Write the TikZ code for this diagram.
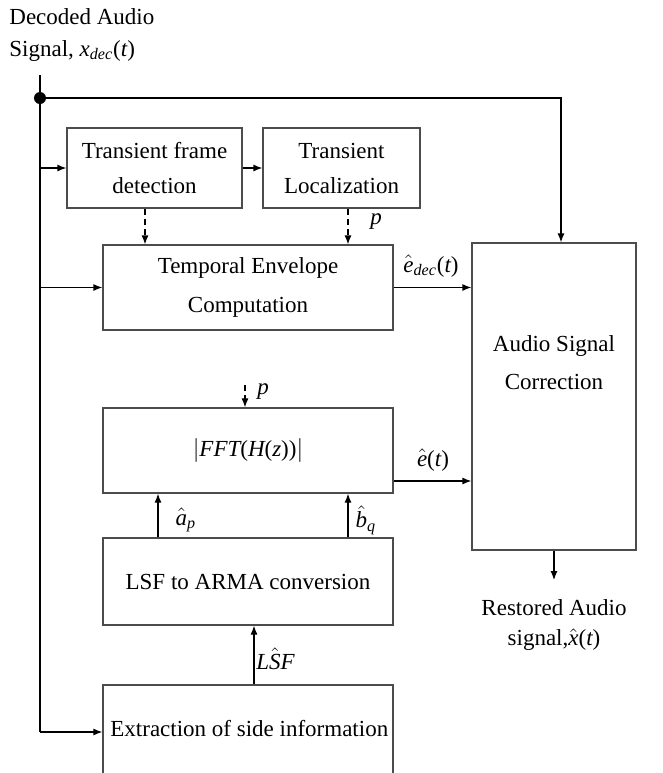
\documentclass[tikz,border=0pt]{standalone}
\usepackage{amsmath}
\usepackage{fontspec}
\setmainfont{LiberationSerif}[Extension=.ttf, UprightFont=*-Regular, ItalicFont=*-Italic, BoldFont=*-Bold, BoldItalicFont=*-BoldItalic]
\usetikzlibrary{arrows.meta}
% italic letters in the serif text face, for the math labels
\newcommand{\mi}[1]{\textit{#1}}
\newcommand{\pr}[1]{\textup{(}#1\textup{)}}
\begin{document}
\begin{tikzpicture}[x=0.5pt,y=-0.5pt,
  box/.style={draw=black!70, line width=0.6pt, inner sep=0pt},
  txt/.style={font=\rmfamily\fontsize{11.5}{17.5}\selectfont, align=center, inner sep=0pt},
  arr/.style={line width=0.6pt, -{Latex[length=4.5pt,width=3.5pt]}},
  dasharr/.style={arr, dash pattern=on 3pt off 2pt},
  wire/.style={line width=0.6pt},
  lab/.style={font=\rmfamily\fontsize{11.5}{14}\selectfont, inner sep=0pt}]
\useasboundingbox (0,0) rectangle (663,773);

% input label
\node[txt, align=left, anchor=north west, font=\rmfamily\fontsize{11.5}{16}\selectfont] (title) at (9,8)
  {Decoded Audio\\Signal, $\mi{x}_{\mi{dec}}\pr{\mi{t}}$};

% blocks
\node[box, txt, minimum width=87.5pt, minimum height=40pt] (tfd) at (154.5,168) {Transient frame\\detection};
\node[box, txt, minimum width=78.5pt, minimum height=40pt] (tl) at (341.5,168) {Transient\\Localization};
\node[box, txt, minimum width=145pt, minimum height=42.5pt] (tec) at (248,287.5) {Temporal Envelope\\[2pt]Computation};
\node[box, minimum width=82pt, minimum height=153.5pt] (asc) at (554,396.5) {};
\node[txt, font=\rmfamily\fontsize{11.5}{19}\selectfont] (asctext) at (554,363) {Audio Signal\\Correction};
\node[box, txt, minimum width=145pt, minimum height=42.5pt] (fft) at (248,450.5) {$|\mi{FFT}\pr{\mi{H}\pr{\mi{z}}}|$};
\node[box, txt, minimum width=145pt, minimum height=43.5pt] (lsf) at (248,581.5) {LSF to ARMA conversion};
\node[box, minimum width=145pt, minimum height=57.5pt] (ext) at (248,742.5) {};
\node[txt, anchor=west] (exttext) at (110,729) {Extraction of side information};

% helper coordinates
\coordinate (top) at (40,75);
\coordinate (dot) at (40,98);
\coordinate (busend) at (40,732);
\coordinate (dx1) at (145,0);
\coordinate (dx2) at (348,0);
\coordinate (pin) at (245,385);
\coordinate (ey) at (0,481);
\coordinate (ax) at (158,0);
\coordinate (bx) at (348,0);
\coordinate (lx) at (254,0);
\coordinate (out) at (554,580);

% input bus
\draw[wire] (top) -- (busend);
\fill (dot) circle (3pt);
\draw[arr] (busend) -- (ext.west |- busend);
\draw[arr] (dot |- tfd.west) -- (tfd.west);
\draw[arr] (dot |- tec.west) -- (tec.west);
\draw[arr] (dot) -| ([xshift=3.5pt]asc.north);

% upper chain
\draw[arr] (tfd.east) -- (tl.west);
\draw[dasharr] (tfd.south -| dx1) -- (tec.north -| dx1);
\draw[dasharr] (tl.south -| dx2) -- (tec.north -| dx2);
\node[lab] (p1) at (376,222) {$\mi{p}$};
\draw[arr] (tec.east) -- (tec.east -| asc.west);
\node[lab] (edec) at (431,266) {$\hat{\mi{e}}_{\mi{dec}}\pr{\mi{t}}$};

% lower chain
\draw[dasharr] (pin) -- (fft.north -| pin);
\node[lab] (p2) at (263,392) {$\mi{p}$};
\draw[arr] (fft.east |- ey) -- (asc.west |- ey);
\node[lab] (ehat) at (433,460) {$\hat{\mi{e}}\pr{\mi{t}}$};
\draw[arr] (lsf.north -| ax) -- (fft.south -| ax);
\draw[arr] (lsf.north -| bx) -- (fft.south -| bx);
\node[lab] (ap) at (186,520) {$\hat{\mi{a}}_{\mi{p}}$};
\node[lab] (bq) at (366,520) {$\hat{\mi{b}}_{\mi{q}}$};
\draw[arr] (ext.north -| lx) -- (lsf.south -| lx);
\node[lab, anchor=west] (lsfhat) at (256,659) {$\mi{L}\hat{\mi{S}}\mi{F}$};

% output
\draw[arr] (asc.south -| out) -- (out);
\node[txt, font=\rmfamily\fontsize{11.5}{15}\selectfont] (restored) at (554,625) {Restored Audio\\signal,$\hat{\mi{x}}\pr{\mi{t}}$};
\end{tikzpicture}
\end{document}
